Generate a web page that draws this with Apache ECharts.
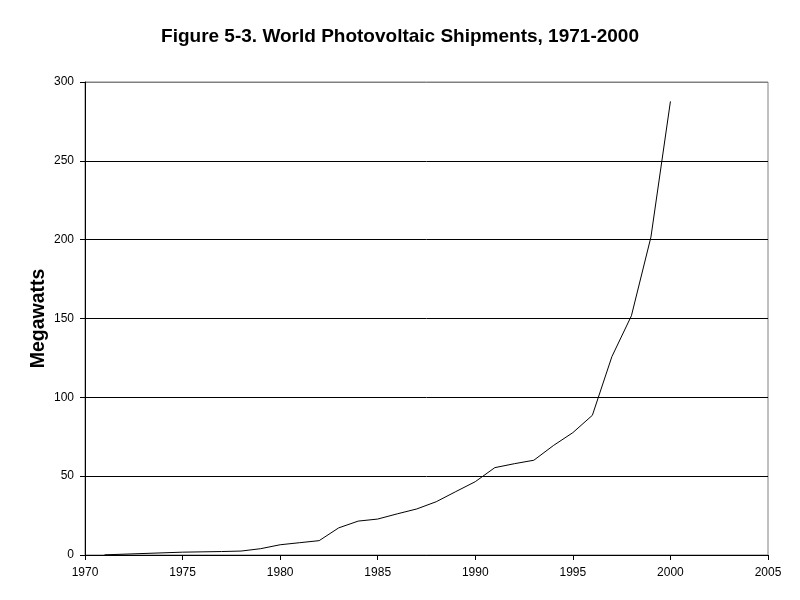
<!DOCTYPE html>
<html>
<head>
<meta charset="utf-8">
<script src="https://cdn.jsdelivr.net/npm/echarts@6/dist/echarts.min.js"></script>
<style>html,body{margin:0;padding:0;background:#fff}#c{width:800px;height:600px}</style>
</head>
<body>
<div id="c"></div>
<script>
const years = [1971, 1975, 1976, 1977, 1978, 1979, 1980, 1981, 1982, 1983, 1984, 1985, 1986, 1987, 1988, 1989, 1990, 1991, 1992, 1993, 1994, 1995, 1996, 1997, 1998, 1999, 2000];
const shipments = [0.1, 1.8, 2.0, 2.2, 2.5, 4.0, 6.5, 7.8, 9.1, 17.2, 21.5, 22.8, 26.1, 29.2, 33.8, 40.2, 46.5, 55.4, 57.9, 60.1, 69.4, 77.6, 88.6, 125.8, 151.7, 201.6, 287.7];
const titleText = 'Figure 5-3. World Photovoltaic Shipments, 1971-2000';
const yName = 'Megawatts';

const chart = echarts.init(document.getElementById('c'), null, {renderer: 'canvas'});
const font = '"Liberation Sans", Arial, sans-serif';
chart.setOption({
  animation: false,
  backgroundColor: '#fff',
  title: {
    text: titleText, left: 'center', top: 22,
    textStyle: {fontFamily: font, fontSize: 19, fontWeight: 'bold', color: '#000'}
  },
  grid: {left: 85, right: 32, top: 82, bottom: 45, show: true, borderColor: '#808080', borderWidth: 1},
  xAxis: {
    type: 'value', min: 1970, max: 2005, interval: 5,
    axisLine: {show: true, lineStyle: {color: '#000', width: 1}},
    axisTick: {show: true, inside: false, length: 5, lineStyle: {color: '#000'}},
    axisLabel: {color: '#000', fontFamily: font, fontSize: 12, margin: 12, formatter: v => String(v)},
    splitLine: {show: false}
  },
  yAxis: {
    type: 'value', min: 0, max: 300, interval: 50,
    name: yName, nameLocation: 'middle', nameGap: 36, nameRotate: 90, nameMoveOverlap: false,
    nameTextStyle: {fontFamily: font, fontSize: 19.5, fontWeight: 'bold', color: '#000'},
    axisLine: {show: true, lineStyle: {color: '#000', width: 1}},
    axisTick: {show: true, inside: false, length: 5, lineStyle: {color: '#000'}},
    axisLabel: {color: '#000', fontFamily: font, fontSize: 12, margin: 11},
    splitLine: {show: true, lineStyle: {color: ['#000', '#000', '#000', '#000', '#000', '#000', '#808080'], width: 1}}
  },
  series: [{
    type: 'line',
    data: years.map((y, i) => [y, shipments[i]]),
    showSymbol: false, symbol: 'none',
    lineStyle: {color: '#000', width: 1},
    silent: true
  }]
});
</script>
</body>
</html>
